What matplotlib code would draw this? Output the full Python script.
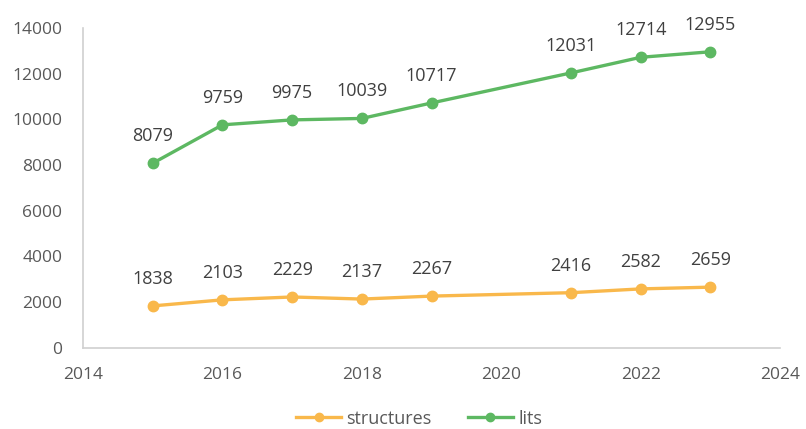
import matplotlib.pyplot as plt

years = [2015, 2016, 2017, 2018, 2019, 2021, 2022, 2023]
structures = [1838, 2103, 2229, 2137, 2267, 2416, 2582, 2659]
lits = [8079, 9759, 9975, 10039, 10717, 12031, 12714, 12955]

orange = "#F9B84B"
green = "#5DB862"
grey_text = "#595959"

plt.rcParams["font.family"] = ["Open Sans", "DejaVu Sans"]

fig = plt.figure(figsize=(8.06, 4.29), dpi=100)
ax = fig.add_axes([0.103, 0.189, 0.865, 0.746])

for vals, col, name in [(structures, orange, "structures"), (lits, green, "lits")]:
    ax.plot(years, vals, color=col, lw=2.4, marker="o", ms=7.5, label=name)
    for x, y in zip(years, vals):
        ax.annotate(str(y), (x, y), xytext=(0, 13), textcoords="offset points",
                    ha="center", va="bottom", fontsize=13, color="#404040")

ax.set_xlim(2014, 2024)
ax.set_ylim(0, 14000)
ax.set_xticks(range(2014, 2025, 2))
ax.set_yticks(range(0, 14001, 2000))
ax.tick_params(axis="x", length=0, labelsize=12.5, labelcolor=grey_text, pad=14)
ax.tick_params(axis="y", length=0, labelsize=12.5, labelcolor=grey_text, pad=15)
for s in ["top", "right"]:
    ax.spines[s].set_visible(False)
for s in ["left", "bottom"]:
    ax.spines[s].set_color("#D0D0D0")
    ax.spines[s].set_linewidth(1.2)

fig.legend(loc="lower center", bbox_to_anchor=(0.52, -0.035), ncol=2, frameon=False,
           fontsize=13, labelcolor=grey_text, handlelength=2.5, columnspacing=2.0,
           handletextpad=0.3, markerscale=0.8)

fig.savefig("out.png", dpi=100)
